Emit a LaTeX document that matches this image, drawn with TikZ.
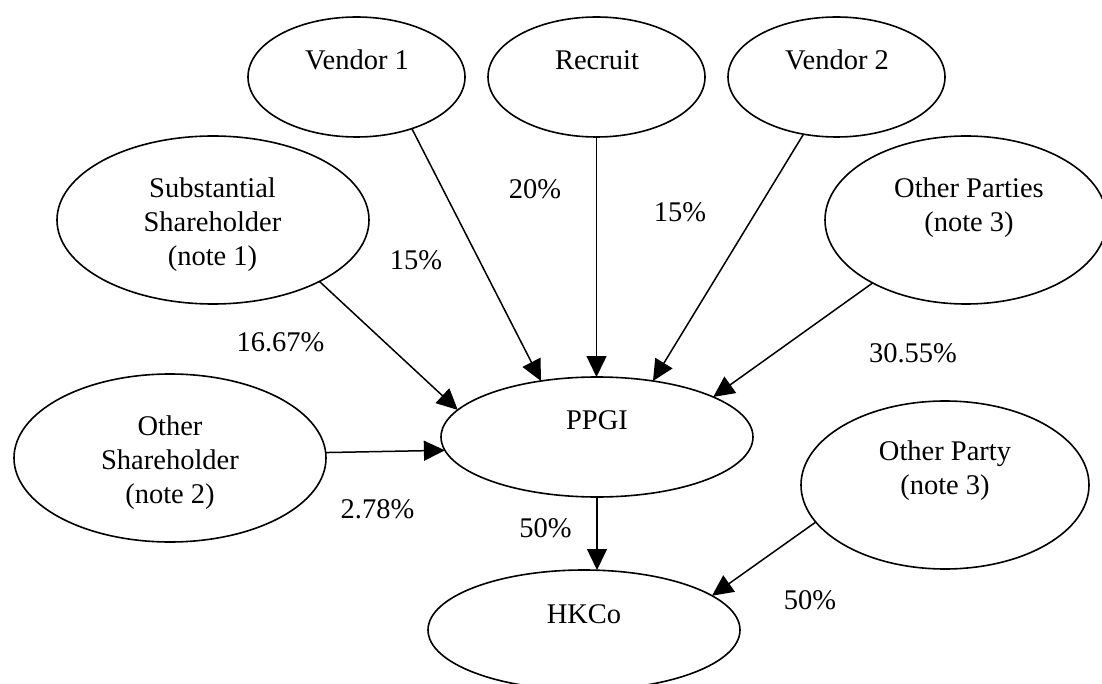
\documentclass[tikz,border=0pt]{standalone}
\usepackage{fontspec}
\setmainfont{Liberation Serif}
\usetikzlibrary{shapes.geometric,arrows.meta,calc}
\begin{document}
\begin{tikzpicture}[x=1pt,y=-1pt,
  blob/.style={draw, ellipse, line width=1.6pt, inner sep=0pt, outer sep=0pt},
  smallbox/.style={blob, minimum width=217pt, minimum height=120pt},
  widebox/.style={blob, minimum width=312pt, minimum height=120pt},
  bigbox/.style={blob, minimum height=168pt},
  txt/.style={font=\fontsize{28.5}{34}\selectfont, inner sep=0pt, align=center, anchor=north},
  lbl/.style={font=\fontsize{28.5}{34}\selectfont, inner sep=0pt, anchor=base},
  arr/.style={line width=1.5pt, -{Triangle[length=21pt,width=20pt]}}
]
\useasboundingbox (0,0) rectangle (1102,684);
\clip (0,0) rectangle (1102,684);

% ellipses
\node[smallbox] (v1)   at (356.5,77) {};
\node[smallbox] (rec)  at (596.5,77) {};
\node[smallbox] (v2)   at (836.5,77) {};
\node[bigbox, minimum width=312pt] (ss)  at (213,220) {};
\node[bigbox, minimum width=282pt] (op)  at (966,220) {};
\node[widebox] (ppgi) at (597,437) {};
\node[bigbox, minimum width=312pt] (osh) at (170,458) {};
\node[bigbox, minimum width=288pt] (opy) at (945,485) {};
\node[widebox] (hk)   at (584,630) {};

% texts inside ellipses
\node[lbl] (tv1)  at (357,70) {Vendor 1};
\node[lbl] (trec) at (597,70) {Recruit};
\node[lbl] (tv2)  at (837,70) {Vendor 2};
\node[txt] (tss)  at (212.5,173.2) {\strut Substantial\\\strut Shareholder\\\strut (note 1)};
\node[txt] (top)  at (969,173.2) {\strut Other Parties\\\strut (note 3)};
\node[lbl] (tppgi) at (597,429) {PPGI};
\node[txt] (tosh) at (170,411.2) {\strut Other\\\strut Shareholder\\\strut (note 2)};
\node[txt] (topy) at (945,436.2) {\strut Other Party\\\strut (note 3)};
\node[lbl] (thk)  at (584,623) {HKCo};

% percentage labels
\node[lbl] (p1) at (416,270) {15\%};
\node[lbl] (p2) at (535,199) {20\%};
\node[lbl] (p3) at (680,222) {15\%};
\node[lbl] (p4) at (280.5,351) {16.67\%};
\node[lbl] (p5) at (913,362) {30.55\%};
\node[lbl] (p6) at (377.5,518) {2.78\%};
\node[lbl] (p7) at (545.5,537) {50\%};
\node[lbl] (p8) at (810,609) {50\%};

% connectors
\draw[arr] (ss.-30) -- (ppgi.169);
\draw[arr] (v1.-43.6) -- (ppgi.135.5);
\draw[arr] (rec.south) -- (rec.south |- ppgi.north);
\draw[arr] (v2.-120.3) -- (ppgi.45.5);
\draw[arr] (op.-146.7) -- (ppgi.19.5);
\draw[arr] (osh.2) -- (ppgi.185.6);
\draw[arr] (ppgi.south) -- (ppgi.south |- hk.north);
\draw[arr] (opy.-164.1) -- (hk.15.7);
\end{tikzpicture}
\end{document}
